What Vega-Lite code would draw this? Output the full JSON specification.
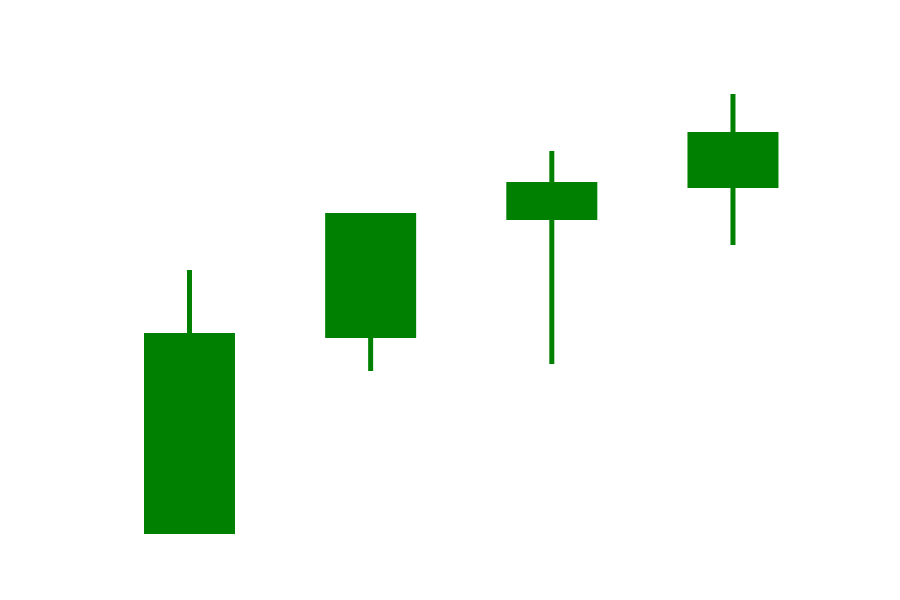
{
  "$schema": "https://vega.github.io/schema/vega-lite/v6.json",
  "width": 900,
  "height": 600,
  "padding": 0,
  "autosize": {"type": "none"},
  "background": "white",
  "config": {"view": {"stroke": null}},
  "data": {
    "values": [
      {"day": 0, "open": 66, "close": 267, "high": 330, "low": 66},
      {"day": 1, "open": 262, "close": 387, "high": 387, "low": 229},
      {"day": 2, "open": 380, "close": 418, "high": 449, "low": 236},
      {"day": 3, "open": 412, "close": 468, "high": 506, "low": 355}
    ]
  },
  "encoding": {
    "x": {"field": "day", "type": "quantitative", "axis": null,
          "scale": {"domain": [-1.046, 3.922], "nice": false, "zero": false, "padding": 0}}
  },
  "layer": [
    {
      "mark": {"type": "rule", "color": "#008000", "strokeWidth": 5},
      "encoding": {
        "y": {"field": "low", "type": "quantitative", "axis": null,
              "scale": {"domain": [0, 600], "nice": false, "zero": false, "padding": 0}},
        "y2": {"field": "high"}
      }
    },
    {
      "mark": {"type": "bar", "color": "#008000", "size": 91},
      "encoding": {
        "y": {"field": "open", "type": "quantitative", "axis": null},
        "y2": {"field": "close"}
      }
    }
  ]
}
